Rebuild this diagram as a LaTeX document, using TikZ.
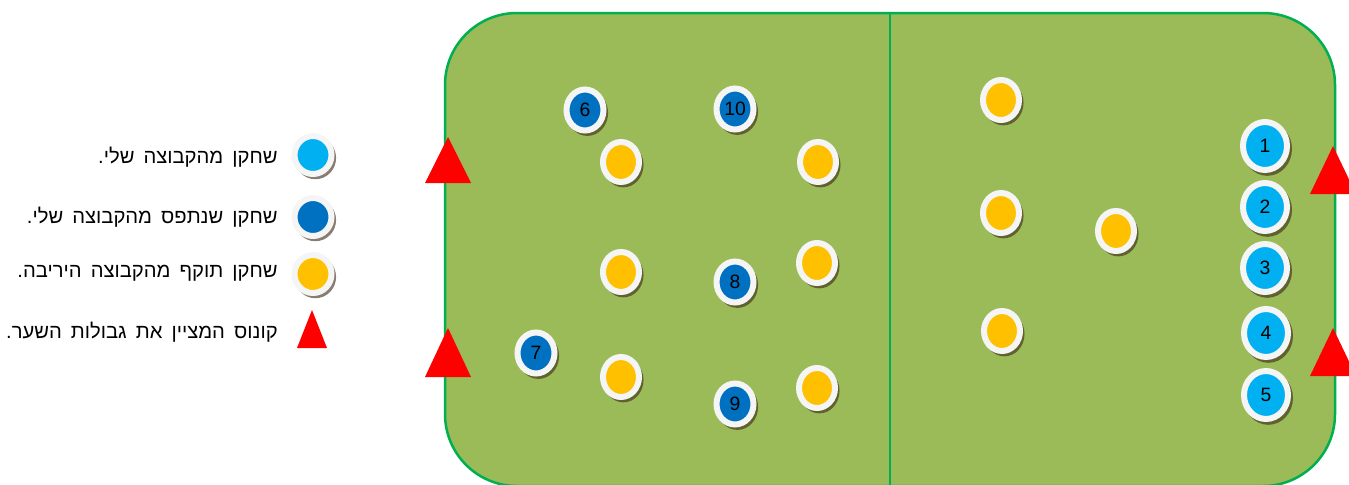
\documentclass[tikz,border=0pt]{standalone}
\usepackage{fontspec}
\setmainfont{Liberation Sans}
\newfontfamily\hebfont[Script=Hebrew]{Liberation Sans}
\TeXXeTstate=1
\usepackage{xcolor}
\usetikzlibrary{shapes.geometric,shadows}
\definecolor{fieldgreen}{HTML}{9BBB59}
\definecolor{linegreen}{HTML}{00B050}
\definecolor{mine}{HTML}{00B0F0}
\definecolor{caught}{HTML}{0070C0}
\definecolor{rival}{HTML}{FFC000}
\definecolor{conered}{HTML}{FF0000}
\newcommand{\heb}[1]{\hebfont\spaceskip=0.45em\beginR #1\endR}
% x, apex y, base y, half width
\newcommand{\markcone}[4]{\fill[conered] (#1-#4,#3) -- (#1,#2) -- (#1+#4,#3) -- cycle;}

\begin{document}
\begin{tikzpicture}[
  x=0.02cm, y=-0.02cm, font=\fontsize{11}{13}\selectfont,
  player/.style={ellipse, draw=gray!8, line width=0.12cm, inner sep=0pt,
                 drop shadow={shadow scale=1.12, shadow xshift=1.2pt,
                 shadow yshift=-1.5pt, fill=black!70!brown, opacity=0.6}},
  mate/.style={player, fill=mine, minimum width=0.88cm, minimum height=0.96cm},
  gone/.style={player, fill=caught, minimum width=0.74cm, minimum height=0.82cm},
  foe/.style={player, fill=rival, minimum width=0.72cm, minimum height=0.8cm},
  key/.style={player, minimum width=0.74cm, minimum height=0.76cm},
  legtext/.style={anchor=east, inner sep=0pt, font=\fontsize{11.5}{13}\selectfont}
]
  \useasboundingbox (0,0) rectangle (1349,484);
  % field
  \draw[fill=fieldgreen, draw=linegreen, line width=0.05cm, rounded corners=1.44cm]
     (445,13) rectangle (1335,486);
  \draw[linegreen, line width=0.04cm] (890,13) -- (890,486);
  % cones
  \markcone{448}{137}{183}{23}
  \markcone{448}{328}{377}{23}
  \markcone{1333}{146}{194}{23}
  \markcone{1333}{328}{376}{23}
  % caught players
  \node[gone] (p6) at (585,110) {6};
  \node[gone] (p10) at (735,109) {10};
  \node[gone] (p8) at (735,282) {8};
  \node[gone] (p7) at (536,353) {7};
  \node[gone] (p9) at (735,404) {9};
  % rivals, left half
  \node[foe] (r1) at (621,162) {};
  \node[foe] (r2) at (818,162) {};
  \node[foe] (r3) at (621,272) {};
  \node[foe] (r4) at (817,263) {};
  \node[foe] (r5) at (621,377) {};
  \node[foe] (r6) at (817,388) {};
  % rivals, right half
  \node[foe] (r7) at (1001,100) {};
  \node[foe] (r8) at (1001,213) {};
  \node[foe] (r9) at (1116,231) {};
  \node[foe] (r10) at (1002,331) {};
  % my team
  \node[mate] (p1) at (1265,146) {1};
  \node[mate] (p2) at (1265,207) {2};
  \node[mate] (p3) at (1265,268) {3};
  \node[mate] (p4) at (1266,333) {4};
  \node[mate] (p5) at (1266,395) {5};
  % legend
  \node[key, fill=mine] (kmine) at (313,155) {};
  \node[key, fill=caught] (kgone) at (313,217) {};
  \node[key, fill=rival] (kfoe) at (313,274) {};
  \markcone{312}{310}{348}{15}
  \node[legtext] (tmine) at (278,157) {\heb{שחקן מהקבוצה שלי.}};
  \node[legtext] (tgone) at (278,217) {\heb{שחקן שנתפס מהקבוצה שלי.}};
  \node[legtext] (tfoe) at (278,273) {\heb{שחקן תוקף מהקבוצה היריבה.}};
  \node[legtext] (tcone) at (278,332) {\heb{קונוס המציין את גבולות השער.}};
\end{tikzpicture}
\end{document}
